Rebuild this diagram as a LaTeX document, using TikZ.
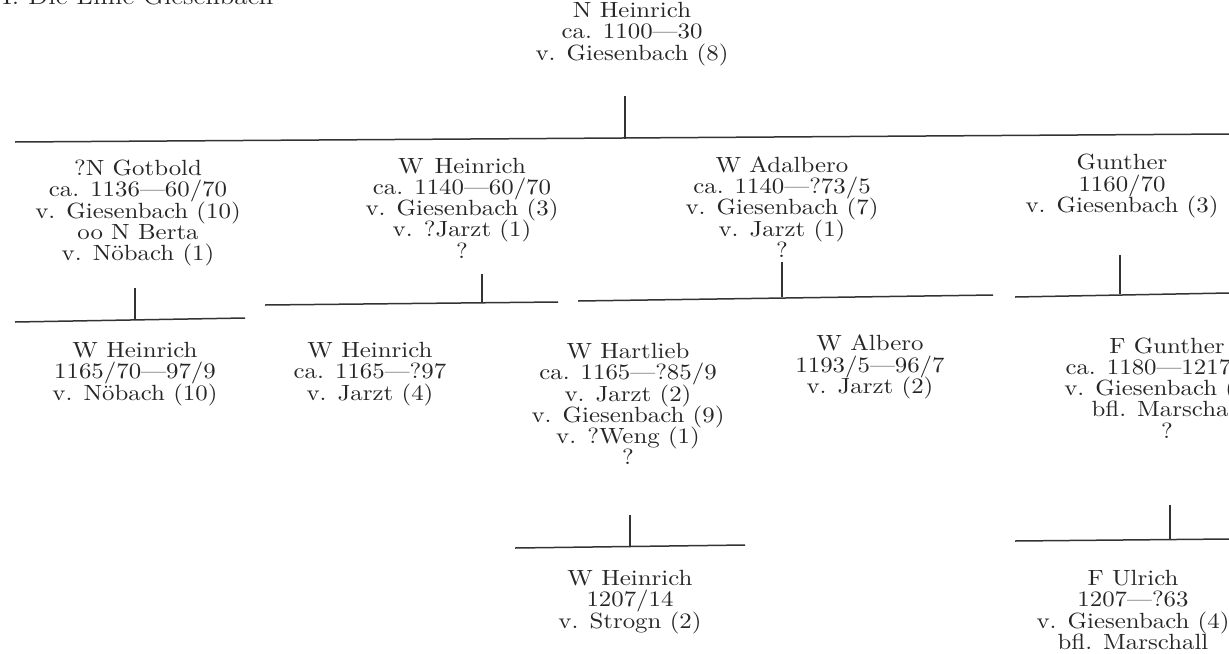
\documentclass[tikz,border=0pt]{standalone}
\usepackage{fontspec}
\setmainfont{Latin Modern Roman}[FakeStretch=1.13]
\newcommand\pfont{\fontsize{11}{10.6}\selectfont\lineskiplimit=-20pt\relax\lineskip=0pt\relax}
\begin{document}
\begin{tikzpicture}[x=0.5pt,y=-0.5pt,
  person/.style={align=center,inner sep=0pt,text=black!85,font=\pfont},
  line/.style={draw=black!80,line width=0.75pt}]
\useasboundingbox (0,0) rectangle (1229,653);
\clip (0,0) rectangle (1229,653);
% cut heading
\node[person,anchor=base west,font=\fontsize{12}{12}\selectfont] (head) at (2,4) {I. Die Linie Giesenbach};
% generation 1
\node[person] (nh) at (632,34) {N Heinrich\\ca. 1100---30\\v. Giesenbach (8)};
% generation 2
\node[person] (gotbold) at (138,213) {?N Gotbold\\ca. 1136---60/70\\v. Giesenbach (10)\\oo N Berta\\v. Nöbach (1)};
\node[person] (wh1) at (462,208) {W\enspace Heinrich\\ca. 1140---60/70\\v. Giesenbach (3)\\v. ?Jarzt (1)\\?};
\node[person] (adal) at (782,207) {W Adalbero\\ca. 1140---?73/5\\v. Giesenbach (7)\\v. Jarzt (1)\\?};
\node[person] (gun) at (1122,186) {Gunther\\1160/70\\v. Giesenbach (3)};
% generation 3
\node[person] (whn) at (135,374) {W Heinrich\\1165/70---97/9\\v. Nöbach (10)};
\node[person] (whj) at (370,374) {W Heinrich\\ca. 1165---?97\\v. Jarzt (4)};
\node[person] (hart) at (628,404) {W Hartlieb\\ca. 1165---?85/9\\v. Jarzt (2)\\v. Giesenbach (9)\\v. ?Weng (1)\\?};
\node[person] (alb) at (870,367) {W Albero\\1193/5---96/7\\v. Jarzt (2)};
\node[person] (fgun) at (1167,388) {F Gunther\\ca. 1180---1217/18\\v. Giesenbach (20)\\bfl. Marschall\\?};
% generation 4
\node[person] (whs) at (630,602) {W Heinrich\\1207/14\\v. Strogn (2)};
\node[person] (ulr) at (1133,610) {F Ulrich\\1207---?63\\v. Giesenbach (4)\\bfl. Marschall};
% stub and bar coordinates
\coordinate (s0) at (625,96);  \coordinate (j0) at (625,139);
\coordinate (b0l) at (15,142); \coordinate (b0r) at (1229,134);
\coordinate (s1) at (135,288); \coordinate (j1) at (135,320);
\coordinate (b1l) at (15,322); \coordinate (b1r) at (245,318);
\coordinate (s2) at (482,274); \coordinate (j2) at (482,302);
\coordinate (b2l) at (265,305); \coordinate (b2r) at (558,302);
\coordinate (s3) at (782,262); \coordinate (j3) at (782,297);
\coordinate (b3l) at (578,301); \coordinate (b3r) at (993,295);
\coordinate (s4) at (1120,255); \coordinate (j4) at (1120,294);
\coordinate (b4l) at (1015,297); \coordinate (b4r) at (1229,293);
\coordinate (s5) at (630,515); \coordinate (j5) at (630,546);
\coordinate (b5l) at (515,548); \coordinate (b5r) at (745,545);
\coordinate (s6) at (1170,505); \coordinate (j6) at (1170,539);
\coordinate (b6l) at (1015,541); \coordinate (b6r) at (1229,539);
\foreach \i in {0,...,6}{
  \draw[line] (s\i) -- (j\i);
  \draw[line] (b\i l) -- (b\i r);
}
\end{tikzpicture}
\end{document}
